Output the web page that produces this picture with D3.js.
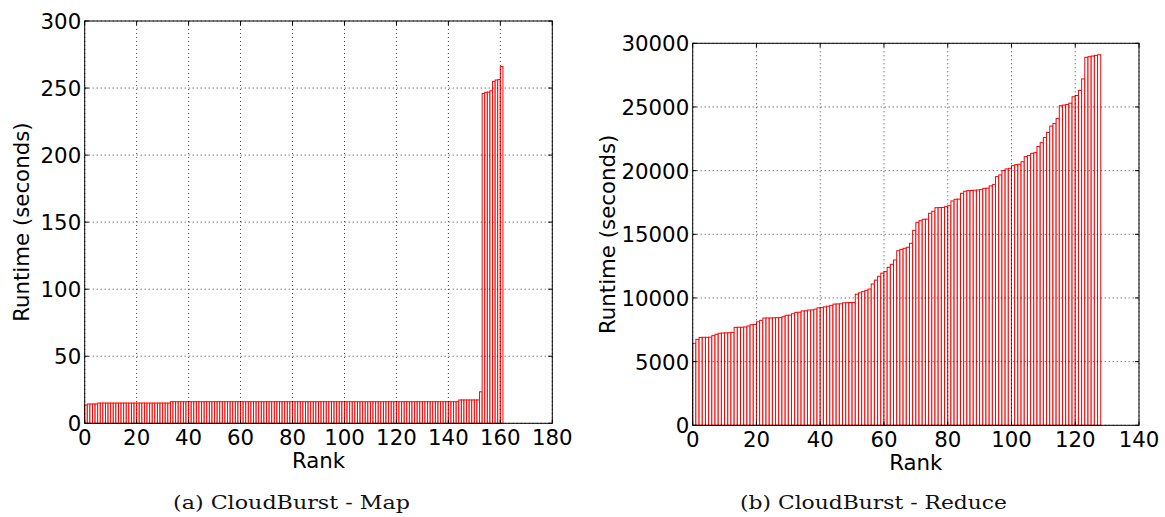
<!DOCTYPE html>
<html>
<head>
<meta charset="utf-8">
<script src="https://cdn.jsdelivr.net/npm/d3@7"></script>
<style>
  html, body { margin: 0; padding: 0; background: #fff; }
  svg { display: block; }
</style>
</head>
<body>
<svg id="fig" width="1165" height="517"></svg>
<script>
// CloudBurst task runtimes, sorted by rank
const mapRuntime = [
  13.6, 14.4, 14.4, 14.4, 14.4, 15.1, 15.1, 15.1, 15.1, 15.1,
  15.1, 15.1, 15.1, 15.1, 15.1, 15.1, 15.1, 15.1, 15.1, 15.1,
  15.1, 15.1, 15.1, 15.1, 15.1, 15.1, 15.1, 15.1, 15.1, 15.1,
  15.1, 15.1, 15.1, 16.1, 16.1, 16.1, 16.1, 16.1, 16.1, 16.1,
  16.1, 16.1, 16.1, 16.1, 16.1, 16.1, 16.1, 16.1, 16.1, 16.1,
  16.1, 16.1, 16.1, 16.1, 16.1, 16.1, 16.1, 16.1, 16.1, 16.1,
  16.1, 16.1, 16.1, 16.1, 16.1, 16.1, 16.1, 16.1, 16.1, 16.1,
  16.1, 16.1, 16.1, 16.1, 16.1, 16.1, 16.1, 16.1, 16.1, 16.1,
  16.1, 16.1, 16.1, 16.1, 16.1, 16.1, 16.1, 16.1, 16.1, 16.1,
  16.1, 16.1, 16.1, 16.1, 16.1, 16.1, 16.1, 16.1, 16.1, 16.1,
  16.1, 16.1, 16.1, 16.1, 16.1, 16.1, 16.1, 16.1, 16.1, 16.1,
  16.1, 16.1, 16.1, 16.1, 16.1, 16.1, 16.1, 16.1, 16.1, 16.1,
  16.1, 16.1, 16.1, 16.1, 16.1, 16.1, 16.1, 16.1, 16.1, 16.1,
  16.1, 16.1, 16.1, 16.1, 16.1, 16.1, 16.1, 16.1, 16.1, 16.1,
  16.1, 16.1, 16.1, 16.1, 17.4, 17.4, 17.4, 17.4, 17.4, 17.4,
  17.4, 17.4, 23.5, 246, 246.8, 247, 248, 255, 256, 256.3,
  266
];

const reduceRuntime = [
  6440, 6750, 6900, 6910, 6910, 6920, 7040, 7150, 7230, 7250,
  7260, 7270, 7300, 7690, 7700, 7700, 7720, 7800, 7900, 7920,
  8130, 8240, 8420, 8430, 8430, 8440, 8450, 8460, 8530, 8640,
  8650, 8760, 8870, 8880, 8980, 8990, 9050, 9060, 9120, 9230,
  9240, 9300, 9350, 9420, 9520, 9530, 9540, 9620, 9630, 9640,
  9650, 10300, 10400, 10500, 10600, 10700, 11100, 11400, 11700, 11950,
  12070, 12410, 12640, 12980, 13710, 13820, 13900, 13980, 14290, 15310,
  15940, 16070, 16180, 16190, 16650, 16810, 17090, 17100, 17110, 17170,
  17250, 17620, 17750, 17760, 18220, 18380, 18430, 18440, 18460, 18480,
  18510, 18610, 18620, 18800, 18900, 19530, 19660, 20000, 20130, 20180,
  20390, 20470, 20500, 20700, 21100, 21180, 21360, 21410, 21900, 22200,
  22600, 23000, 23500, 23700, 24100, 25100, 25150, 25200, 25300, 25800,
  25900, 26300, 27200, 28900, 28950, 29000, 29050, 29100
];

const mapXTicks = [0, 20, 40, 60, 80, 100, 120, 140, 160, 180];
const mapYTicks = [0, 50, 100, 150, 200, 250, 300];
const reduceXTicks = [0, 20, 40, 60, 80, 100, 120, 140];
const reduceYTicks = [0, 5000, 10000, 15000, 20000, 25000, 30000];

const xLabel = "Rank";
const yLabel = "Runtime (seconds)";
const captions = ["(a) CloudBurst - Map", "(b) CloudBurst - Reduce"];

const svg = d3.select("#fig");
svg.append("rect").attr("width", 1165).attr("height", 517).attr("fill", "#fff");

const FONT = "'DejaVu Sans', sans-serif";
const FS = 21.3;

function panel(cfg) {
  const x = d3.scaleLinear().domain(cfg.xDomain).range([cfg.left, cfg.right]);
  const y = d3.scaleLinear().domain(cfg.yDomain).range([cfg.bottom, cfg.top]);
  const g = svg.append("g");

  // bars: one per rank, edge-aligned, red outline
  g.append("g").selectAll("rect").data(cfg.values).join("rect")
    .attr("x", (d, i) => x(i))
    .attr("width", (d, i) => x(i + 1) - x(i))
    .attr("y", d => y(d))
    .attr("height", d => y(0) - y(d))
    .attr("fill", "#fff")
    .attr("stroke", "#ff0000")
    .attr("stroke-width", 1);

  // dotted grid on top of the bars
  const grid = g.append("g")
    .attr("stroke", "#000")
    .attr("stroke-width", 0.9)
    .attr("stroke-dasharray", "1,3")
    .attr("stroke-opacity", 0.85);
  grid.selectAll("line.gx").data(cfg.xTicks).join("line")
    .attr("class", "gx")
    .attr("x1", d => x(d)).attr("x2", d => x(d))
    .attr("y1", cfg.top).attr("y2", cfg.bottom);
  grid.selectAll("line.gy").data(cfg.yTicks).join("line")
    .attr("class", "gy")
    .attr("x1", cfg.left).attr("x2", cfg.right)
    .attr("y1", d => y(d)).attr("y2", d => y(d));

  // inward tick marks on all four sides
  const tl = 4;
  const ticks = g.append("g").attr("stroke", "#000").attr("stroke-width", 1);
  cfg.xTicks.forEach(t => {
    ticks.append("line").attr("x1", x(t)).attr("x2", x(t)).attr("y1", cfg.bottom).attr("y2", cfg.bottom - tl);
    ticks.append("line").attr("x1", x(t)).attr("x2", x(t)).attr("y1", cfg.top).attr("y2", cfg.top + tl);
  });
  cfg.yTicks.forEach(t => {
    ticks.append("line").attr("x1", cfg.left).attr("x2", cfg.left + tl).attr("y1", y(t)).attr("y2", y(t));
    ticks.append("line").attr("x1", cfg.right).attr("x2", cfg.right - tl).attr("y1", y(t)).attr("y2", y(t));
  });

  // frame
  g.append("rect")
    .attr("x", cfg.left).attr("y", cfg.top)
    .attr("width", cfg.right - cfg.left).attr("height", cfg.bottom - cfg.top)
    .attr("fill", "none").attr("stroke", "#000").attr("stroke-width", 1);

  // tick labels
  g.append("g").selectAll("text").data(cfg.xTicks).join("text")
    .attr("x", d => x(d)).attr("y", cfg.bottom + 21.8)
    .attr("text-anchor", "middle")
    .attr("font-family", FONT).attr("font-size", FS)
    .text(d => d);
  g.append("g").selectAll("text").data(cfg.yTicks).join("text")
    .attr("x", cfg.left - 3.5).attr("y", d => y(d) + 8)
    .attr("text-anchor", "end")
    .attr("font-family", FONT).attr("font-size", FS)
    .text(d => d);

  // axis titles
  g.append("text")
    .attr("x", (cfg.left + cfg.right) / 2).attr("y", cfg.bottom + 45)
    .attr("text-anchor", "middle")
    .attr("font-family", FONT).attr("font-size", FS)
    .text(xLabel);
  g.append("text")
    .attr("transform", `translate(${cfg.yLabelX},${(cfg.top + cfg.bottom) / 2}) rotate(-90)`)
    .attr("text-anchor", "middle")
    .attr("font-family", FONT).attr("font-size", FS)
    .text(yLabel);

  // caption below the panel
  svg.append("text")
    .attr("x", cfg.captionX).attr("y", 509)
    .attr("text-anchor", "middle")
    .attr("font-family", "'DejaVu Serif', serif").attr("font-size", 18)
    .attr("font-weight", 300)
    .attr("fill", "#111")
    .attr("textLength", cfg.captionW).attr("lengthAdjust", "spacingAndGlyphs")
    .text(cfg.caption);
}

panel({
  values: mapRuntime,
  xDomain: [0, 180], yDomain: [0, 300],
  xTicks: mapXTicks, yTicks: mapYTicks,
  left: 84.7, right: 552.3, top: 21, bottom: 423.3,
  yLabelX: 29,
  caption: captions[0], captionX: 291.5, captionW: 237
});

panel({
  values: reduceRuntime,
  xDomain: [0, 140], yDomain: [0, 30000],
  xTicks: reduceXTicks, yTicks: reduceYTicks,
  left: 692.7, right: 1139, top: 43.3, bottom: 425.3,
  yLabelX: 615,
  caption: captions[1], captionX: 873.5, captionW: 267
});
</script>
</body>
</html>
